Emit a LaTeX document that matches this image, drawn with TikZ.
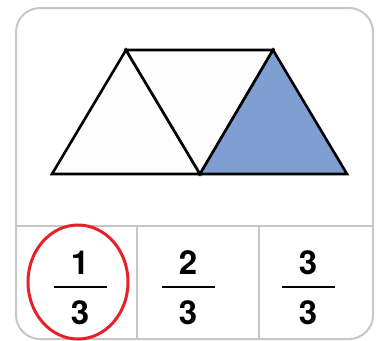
\documentclass[tikz,border=0pt]{standalone}
\usepackage{fontspec}
\setmainfont{TeX Gyre Heros}
\usepackage{xcolor}
\usetikzlibrary{shapes.geometric}
\definecolor{framec}{HTML}{C6C6C6}
\definecolor{shadec}{HTML}{7F9FD3}
\definecolor{paperc}{HTML}{FDFDFD}
\definecolor{markc}{HTML}{E8202A}

\begin{document}
\begin{tikzpicture}[
  x=1pt, y=-1pt,
  frame/.style={draw=framec, line width=2pt},
  tri/.style={draw=black, line width=2.6pt, line join=miter},
  digit/.style={font=\fontsize{33}{33}\selectfont\bfseries, anchor=base, inner sep=0pt},
  bar/.style={line width=2pt},
  ring/.style={draw=markc, line width=3pt}
]
  \useasboundingbox (0,0) rectangle (379,340);

  % card
  \draw[frame, rounded corners=24pt] (16,8) rectangle (373,339);
  \draw[frame] (16,226) -- (373,226);
  \draw[frame] (137,226) -- (137,339);
  \draw[frame] (259,226) -- (259,339);

  % triangles
  \coordinate (a) at (52,174);
  \coordinate (b) at (126,50);
  \coordinate (c) at (273,50);
  \coordinate (d) at (200,174);
  \coordinate (e) at (347,174);
  \filldraw[tri, fill=paperc] (a) -- (b) -- (d) -- cycle;
  \filldraw[tri, fill=paperc] (b) -- (c) -- (d) -- cycle;
  \filldraw[tri, fill=shadec] (d) -- (c) -- (e) -- cycle;

  % fractions
  \foreach \n/\x in {1/80, 2/188, 3/308} {
    \node[digit] (num\n) at (\x,274) {\n};
    \node[digit] (den\n) at (\x,324) {3};
    \draw[bar] (\x-26.5,287) -- (\x+26.5,287);
  }

  % the chosen answer
  \node[ring, ellipse, minimum width=100pt, minimum height=114pt] (pick) at (78,282) {};
\end{tikzpicture}
\end{document}
